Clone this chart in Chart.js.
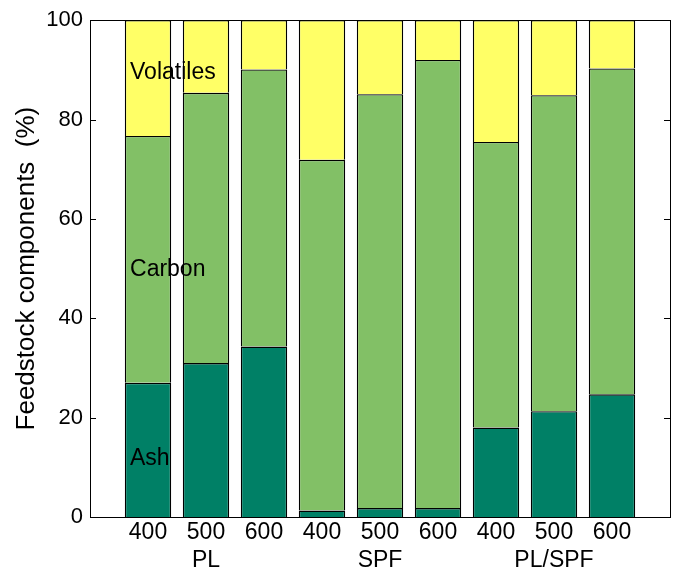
<!DOCTYPE html>
<html>
<head>
<meta charset="utf-8">
<script src="https://cdn.jsdelivr.net/npm/chart.js@4"></script>
<style>
  body { margin: 0; background: #fff; }
  #wrap { width: 675px; height: 571px; }
</style>
</head>
<body>
<div id="wrap"><canvas id="myChart" width="675" height="571"></canvas></div>
<script>
// feedstock data (%)
const positions = [1, 2, 3, 4, 5, 6, 7, 8, 9];
const temps = ["400", "500", "600", "400", "500", "600", "400", "500", "600"];
const groups = ["", "PL", "", "", "SPF", "", "", "PL/SPF", ""];
const ash = [27.0, 31.0, 34.3, 1.3, 1.8, 1.8, 18.0, 21.3, 24.7];
const carbonTop = [76.7, 85.4, 90.1, 71.9, 85.1, 92.0, 75.5, 84.9, 90.3];
const yTicks = [0, 20, 40, 60, 80, 100];

const carbon = carbonTop.map((t, i) => +(t - ash[i]).toFixed(1));
const volatiles = carbonTop.map((t) => +(100 - t).toFixed(1));

const FONT = "'Liberation Sans', Arial, Helvetica, sans-serif";

function pts(vals) {
  return vals.map((v, i) => ({ x: positions[i], y: v }));
}

// box, inward ticks and the in-plot labels (matlab look)
const boxPlugin = {
  id: "box",
  afterDraw(chart) {
    const ctx = chart.ctx;
    const a = chart.chartArea;
    const xs = chart.scales.x;
    const ys = chart.scales.y;
    ctx.save();
    ctx.strokeStyle = "#000";
    ctx.lineWidth = 1;
    yTicks.forEach((t) => {
      const py = Math.round(ys.getPixelForValue(t)) + 0.5;
      ctx.beginPath();
      ctx.moveTo(a.left, py);
      ctx.lineTo(a.left + 6, py);
      ctx.moveTo(a.right, py);
      ctx.lineTo(a.right - 6, py);
      ctx.stroke();
    });
    ctx.strokeRect(Math.round(a.left) + 0.5, Math.round(a.top) + 0.5,
      Math.round(a.right - a.left), Math.round(a.bottom - a.top));

    ctx.fillStyle = "#000";
    ctx.font = "23px " + FONT;
    ctx.textBaseline = "middle";
    ctx.textAlign = "left";
    const x0 = xs.getPixelForValue(0.69);
    ctx.fillText("Volatiles", x0, ys.getPixelForValue(89.5));
    ctx.fillText("Carbon", x0, ys.getPixelForValue(49.7));
    ctx.fillText("Ash", x0, ys.getPixelForValue(11.8));
    ctx.restore();
  },
};

const common = {
  borderColor: "#000",
  borderWidth: 1.4,
  barPercentage: 0.8,
  categoryPercentage: 1,
};

new Chart(document.getElementById("myChart"), {
  type: "bar",
  data: {
    datasets: [
      Object.assign({ label: "Ash", data: pts(ash), backgroundColor: "#008066" }, common),
      Object.assign({ label: "Carbon", data: pts(carbon), backgroundColor: "#82C066" }, common),
      Object.assign({ label: "Volatiles", data: pts(volatiles), backgroundColor: "#FFFF66" }, common),
    ],
  },
  options: {
    responsive: false,
    animation: false,
    layout: { padding: { top: 20, right: 5, left: 0, bottom: 0 } },
    plugins: {
      legend: { display: false },
      tooltip: { enabled: false },
    },
    scales: {
      x: {
        type: "linear",
        min: 0,
        max: 10,
        offset: false,
        stacked: true,
        grid: { display: false, drawTicks: false, offset: false },
        border: { display: false },
        afterFit: (s) => { s.height = 54; },
        afterBuildTicks: (s) => {
          s.ticks = positions.map((p) => ({ value: p }));
        },
        ticks: {
          autoSkip: false,
          maxRotation: 0,
          padding: 2,
          color: "#000",
          font: { size: 23, family: FONT, lineHeight: 1.2 },
          callback: (v) => {
            const i = positions.indexOf(v);
            if (i < 0) return "";
            return groups[i] ? [temps[i], groups[i]] : temps[i];
          },
        },
      },
      y: {
        min: 0,
        max: 100,
        stacked: true,
        grid: { display: false, drawTicks: false },
        border: { display: false },
        afterFit: (s) => { s.width = 90; },
        afterBuildTicks: (s) => {
          s.ticks = yTicks.map((t) => ({ value: t }));
        },
        ticks: {
          padding: 7,
          color: "#000",
          font: { size: 22, family: FONT },
        },
        title: {
          display: true,
          text: "Feedstock components  (%)",
          color: "#000",
          font: { size: 26, family: FONT },
          padding: { top: 11, bottom: 0 },
        },
      },
    },
  },
  plugins: [boxPlugin],
});
</script>
</body>
</html>
